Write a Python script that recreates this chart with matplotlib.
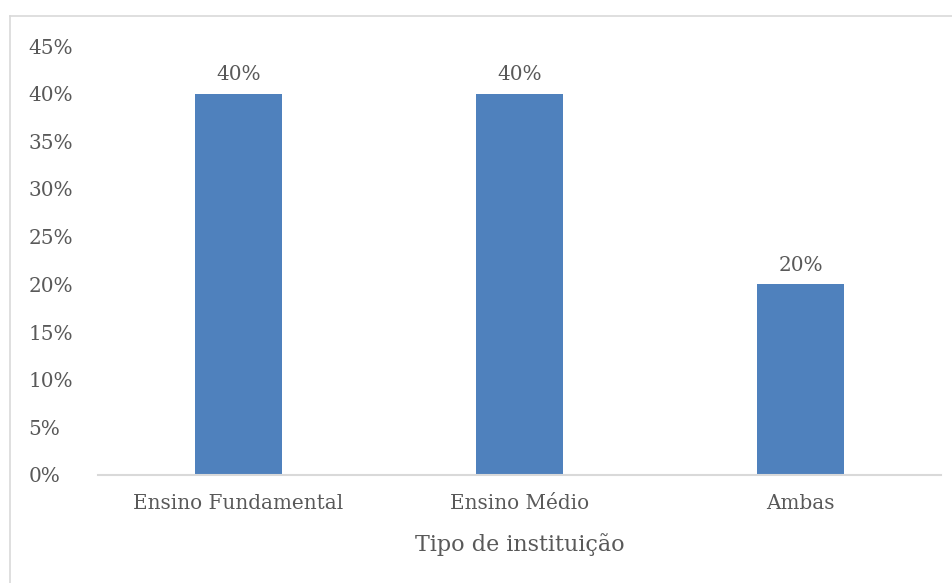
import matplotlib
matplotlib.use("Agg")
import matplotlib.pyplot as plt
from matplotlib.lines import Line2D
from matplotlib.ticker import FuncFormatter, MultipleLocator

categories = ["Ensino Fundamental", "Ensino Médio", "Ambas"]
values = [0.40, 0.40, 0.20]
value_labels = ["40%", "40%", "20%"]
xlabel = "Tipo de instituição"

W, H = 953, 583
fig = plt.figure(figsize=(W/100, H/100), dpi=100)
plt.rcParams['font.family'] = ['DejaVu Serif']
txt = '#595959'

ax = fig.add_axes([98/W, 1-475/H, (941-98)/W, (475-46)/H])
x = list(range(len(categories)))
bars = ax.bar(x, values, width=0.313, color='#4f81bd', zorder=2)
ax.set_xlim(-0.5, len(categories)-0.5)
ax.set_ylim(0, 0.45)
ax.yaxis.set_major_locator(MultipleLocator(0.05))
ax.yaxis.set_major_formatter(FuncFormatter(lambda v, p: f"{round(v*100)}%"))
ax.set_xticks(x)
ax.set_xticklabels(categories)
for s in ['top', 'right', 'left']:
    ax.spines[s].set_visible(False)
ax.spines['bottom'].set_color('#d9d9d9')
ax.spines['bottom'].set_linewidth(1.5)
ax.tick_params(axis='both', length=0, labelsize=14.4, colors=txt)
ax.tick_params(axis='x', pad=14)
for lab in ax.get_yticklabels():
    lab.set_horizontalalignment('left')
ax.yaxis.set_tick_params(pad=50)
for b, lbl in zip(bars, value_labels):
    ax.annotate(lbl, (b.get_x()+b.get_width()/2, b.get_height()), xytext=(0, 7),
                textcoords='offset points', ha='center', va='bottom', fontsize=14.4, color=txt)
ax.set_xlabel(xlabel, fontsize=16, color=txt, labelpad=14)

fig.add_artist(Line2D([10/W, 952/W], [1-16/H, 1-16/H], color='#d9d9d9', lw=1.2, transform=fig.transFigure))
fig.add_artist(Line2D([10/W, 10/W], [0, 1-16/H], color='#d9d9d9', lw=1.2, transform=fig.transFigure))

fig.savefig("out.png", dpi=100)
